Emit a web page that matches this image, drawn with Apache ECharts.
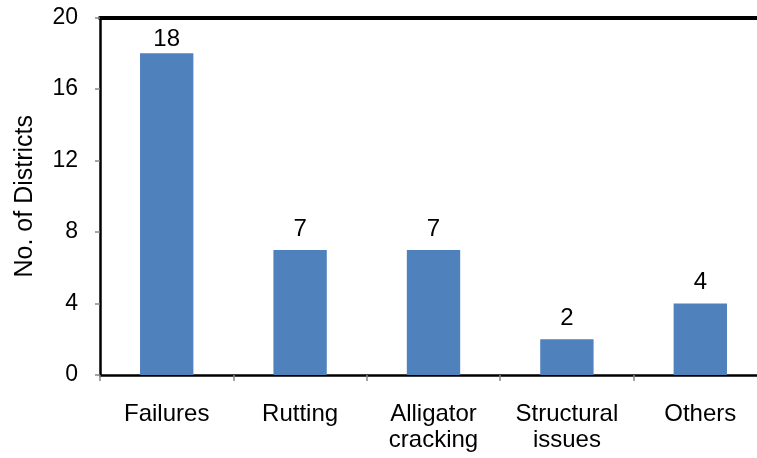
<!DOCTYPE html>
<html><head><meta charset="utf-8">
<script src="https://cdn.jsdelivr.net/npm/echarts@6/dist/echarts.min.js"></script>
<style>html,body{margin:0;padding:0;background:#fff}#c{width:757px;height:458px}</style>
</head><body><div id="c"></div>
<script>
var categories = ['Failures', 'Rutting', 'Alligator\ncracking', 'Structural\nissues', 'Others'];
var values = [18, 7, 7, 2, 4];
var yTicks = {min: 0, max: 20, interval: 4};
var yName = 'No. of Districts';

var chart = echarts.init(document.getElementById('c'), null, {renderer: 'canvas'});
var font = 'Liberation Sans, Arial, sans-serif';
var gridTop = 17.5;
var labelMinTop = gridTop + 10;
chart.setOption({
  animation: false,
  backgroundColor: '#fff',
  grid: {left: 100, top: gridTop, width: 667, height: 357.5, containLabel: false, outerBoundsMode: 'none'},
  xAxis: [{
    type: 'category', data: categories, position: 'bottom',
    axisLine: {lineStyle: {color: '#000', width: 2.5}},
    axisTick: {show: true, length: 6, lineStyle: {color: '#888', width: 1.5}},
    axisLabel: {color: '#000', fontSize: 24, fontFamily: font, margin: 26, lineHeight: 26, interval: 0}
  }, {
    type: 'category', data: categories, position: 'top',
    axisLine: {lineStyle: {color: '#000', width: 4}},
    axisTick: {show: false}, axisLabel: {show: false}
  }],
  yAxis: {
    type: 'value', min: yTicks.min, max: yTicks.max, interval: yTicks.interval,
    name: yName, nameLocation: 'middle', nameGap: 62, nameRotate: 90,
    nameTextStyle: {color: '#000', fontSize: 25, fontFamily: font},
    axisLine: {show: true, lineStyle: {color: '#000', width: 2.5}},
    axisTick: {show: true, length: 5, lineStyle: {color: '#888', width: 1.5}},
    axisLabel: {color: '#000', fontSize: 23, fontFamily: font, margin: 22},
    splitLine: {show: false}
  },
  series: [{
    type: 'bar', data: values, barWidth: '40%', xAxisIndex: 0,
    itemStyle: {color: '#4F81BD'},
    label: {show: true, position: 'top', color: '#000', fontSize: 24, fontFamily: font, distance: 9},
    labelLayout: function (p) {
      var r = p.labelRect;
      if (r.y < labelMinTop) {
        return {dy: labelMinTop - r.y};
      }
      return {};
    }
  }]
});
</script></body></html>
